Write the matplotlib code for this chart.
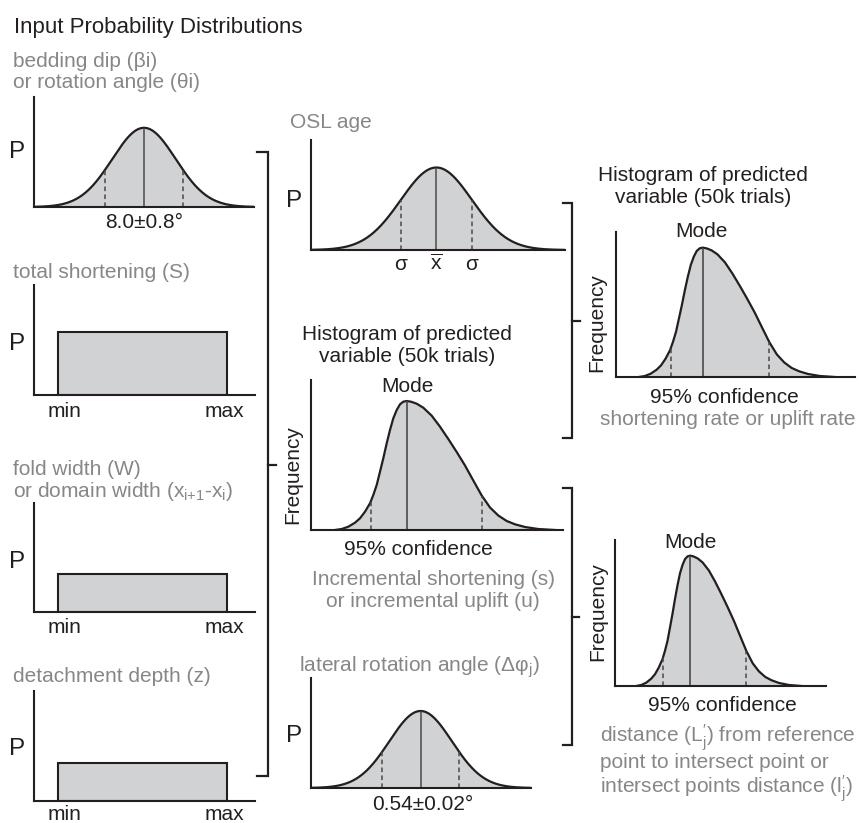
import numpy as np
import matplotlib
matplotlib.use("Agg")
import matplotlib.pyplot as plt

plt.rcParams['font.family'] = ['Liberation Sans', 'DejaVu Sans']
plt.rcParams['mathtext.fontset'] = 'custom'
plt.rcParams['mathtext.rm'] = 'Liberation Sans'
plt.rcParams['mathtext.it'] = 'Liberation Sans:italic'

# --- input distributions (normal: mean, sd shown by the dashes, drawn curve width, peak height)
dip_mean, dip_sd, dip_shape_sd, dip_peak = 8.0, 0.8, 0.65, 0.72
osl_mean, osl_sd, osl_shape_sd, osl_peak = 0.0, 1.0, 1.0, 0.75
lat_mean, lat_sd, lat_shape_sd, lat_peak = 0.54, 0.02, 0.0164, 0.70

# uniform inputs: total shortening, fold width, detachment depth
uniform_min = [0.0, 0.0, 0.0]
uniform_max = [1.0, 1.0, 1.0]
uniform_height = [0.57, 0.35, 0.35]

# outline of the simulated output histogram (arbitrary units)
hist_x = [24, 30.7, 37.3, 44, 49, 54, 59, 62.3, 65.7, 69, 72.3, 75.7, 79, 82.3, 85.7,
          89, 92.3, 95.7, 100, 105.7, 112.3, 120.7, 129, 137.3, 145.7, 154, 162.3,
          170.7, 179, 187.3, 195.7, 204, 214, 227.3, 244]
hist_y = [0, 1, 3.3, 7.3, 11.7, 18.3, 26.7, 35, 45, 58.3, 71.7, 86.7, 100, 111.7, 120,
          125.7, 128.3, 129, 128.3, 126.3, 122.3, 114.3, 103.3, 91, 78, 64.5, 49.5,
          34.5, 22.5, 14.5, 9, 5.7, 3, 1, 0]
hist_mode = 95.7
hist_ci = [60.0, 170.7]

INK = '#231f20'
GREY = '#878787'
FILL = '#d1d2d4'
MID = '#4a4a4a'

W, H = 859, 823
fig = plt.figure(figsize=(W / 100, H / 100), dpi=100)


def panel(x0, top, x1, base):
    # axes placed by its pixel box in the figure
    ax = fig.add_axes([x0 / W, 1 - base / H, (x1 - x0) / W, (base - top) / H])
    ax.set_facecolor('none')
    for s in ['top', 'right']:
        ax.spines[s].set_visible(False)
    for s in ['left', 'bottom']:
        ax.spines[s].set_linewidth(1.5)
        ax.spines[s].set_color(INK)
    ax.set_xticks([])
    ax.set_yticks([])
    return ax


def normal_panel(box, mean, sd, shape_sd, peak, xlim):
    ax = panel(*box)
    x = np.linspace(xlim[0], xlim[1], 400)
    y = peak * np.exp(-0.5 * ((x - mean) / shape_sd) ** 2)
    ax.fill_between(x, y, color=FILL, lw=0)
    ax.plot(x, y, color=INK, lw=1.6, solid_capstyle='butt')
    ax.vlines(mean, 0, peak, color=MID, lw=1.1)
    for d in (mean - sd, mean + sd):
        h = peak * np.exp(-0.5 * ((d - mean) / shape_sd) ** 2)
        ax.vlines(d, 0, h, color=MID, lw=1.1, linestyles=(0, (3, 2.2)))
    ax.set_xlim(xlim)
    ax.set_ylim(0, 1)
    return ax


def uniform_panel(box, mn, mx, h, drop):
    ax = panel(*box)
    ax.bar(mn, h, width=mx - mn, align='edge', color=FILL, edgecolor=INK, lw=1.5)
    ax.set_xlim(mn - 0.144 * (mx - mn), mn + 1.166 * (mx - mn))
    ax.set_ylim(0, 1)
    ax.annotate('min', xy=(mn, 0), xytext=(6, -drop), textcoords='offset pixels',
                ha='center', va='baseline', fontsize=15, color=INK)
    ax.annotate('max', xy=(mx, 0), xytext=(-3, -drop), textcoords='offset pixels',
                ha='center', va='baseline', fontsize=15, color=INK)
    return ax


def hist_panel(box, xlim, ylim):
    ax = panel(*box)
    ax.fill_between(hist_x, hist_y, color=FILL, lw=0)
    ax.plot(hist_x, hist_y, color=INK, lw=1.6, solid_joinstyle='round')
    ax.vlines(hist_mode, 0, np.interp(hist_mode, hist_x, hist_y), color=MID, lw=1.2)
    for c in hist_ci:
        ax.vlines(c, 0, np.interp(c, hist_x, hist_y), color=MID, lw=1.1,
                  linestyles=(0, (3, 2.2)))
    ax.set_xlim(xlim)
    ax.set_ylim(ylim)
    return ax


# left column: input distributions
ax = normal_panel((34, 97, 254, 207), dip_mean, dip_sd, dip_shape_sd, dip_peak,
                  (dip_mean - 2.82 * dip_sd, dip_mean + 2.82 * dip_sd))
ax.annotate('8.0±0.8°', xy=(dip_mean, 0), xytext=(0, -21), textcoords='offset pixels',
            ha='center', va='baseline', fontsize=15, color=INK)

uniform_boxes = [(34, 285, 255, 395), (34, 503, 255, 612), (34, 691, 255, 801)]
label_drops = [22, 21, 19]
for box, mn, mx, h, dr in zip(uniform_boxes, uniform_min, uniform_max, uniform_height,
                              label_drops):
    uniform_panel(box, mn, mx, h, dr)

# middle column
ax = normal_panel((311, 140, 565, 250), osl_mean, osl_sd, osl_shape_sd, osl_peak,
                  (osl_mean - 3.52 * osl_sd, osl_mean + 3.61 * osl_sd))
for xv, s in [(osl_mean - osl_sd, 'σ'), (osl_mean, r'$\overline{\mathrm{x}}$'),
              (osl_mean + osl_sd, 'σ')]:
    ax.annotate(s, xy=(xv, 0), xytext=(0, -20), textcoords='offset pixels',
                ha='center', va='baseline', fontsize=15, color=INK)

hist_panel((311, 380, 563, 530), (0, 252), (0, 150))

ax = normal_panel((311, 678, 531, 788), lat_mean, lat_sd, lat_shape_sd, lat_peak,
                  (lat_mean - 2.87 * lat_sd, lat_mean + 2.89 * lat_sd))
ax.annotate('0.54±0.02°', xy=(lat_mean, 0), xytext=(2, -22), textcoords='offset pixels',
            ha='center', va='baseline', fontsize=15, color=INK)

# right column
hist_panel((616, 232, 855, 377), (-1.7, 266.8), (0, 144.6))
hist_panel((615, 540, 826, 686), (-4.3, 276.6), (0, 144.5))

# overlay in pixel coordinates for titles, labels and brackets
ov = fig.add_axes([0, 0, 1, 1])
ov.set_xlim(0, W)
ov.set_ylim(H, 0)
ov.axis('off')
ov.patch.set_visible(False)


def label(x, y, s, color=INK, size=15, ha='left'):
    ov.text(x, y, s, color=color, fontsize=size, ha=ha, va='baseline')


label(14, 33, 'Input Probability Distributions', size=16)

label(13, 67, 'bedding dip (βi)', GREY)
label(13, 88, 'or rotation angle (θi)', GREY)
label(13, 278, 'total shortening (S)', GREY)
label(13, 475, 'fold width (W)', GREY)
label(13, 497, r'or domain width (x$_{\mathrm{i{+}1}}$-x$_{\mathrm{i}}$)', GREY)
label(13, 682, 'detachment depth (z)', GREY)

label(290, 128, 'OSL age', GREY)
label(407, 340, 'Histogram of predicted', ha='center')
label(407, 362, 'variable (50k trials)', ha='center')
label(407, 392, 'Mode', ha='center')
label(418, 555, '95% confidence', ha='center')
label(433, 585, 'Incremental shortening (s)', GREY, ha='center')
label(433, 607, 'or incremental uplift (u)', GREY, ha='center')
label(299, 672, r'lateral rotation angle (Δφ$_{\mathrm{j}}$)', GREY)

label(703, 181, 'Histogram of predicted', ha='center')
label(703, 203, 'variable (50k trials)', ha='center')
label(701, 237, 'Mode', ha='center')
label(724, 403, '95% confidence', ha='center')
label(728, 425, 'shortening rate or uplift rate', GREY, ha='center')

label(690, 548, 'Mode', ha='center')
label(722, 711, '95% confidence', ha='center')
label(600, 742, r'distance (L$^{\prime}_{\mathrm{j}}$) from reference', GREY)
label(600, 768, 'point to intersect point or', GREY)
label(600, 793, r'intersect points distance (l$^{\prime}_{\mathrm{j}}$)', GREY)

# "P" axis labels
for x0, yb in [(34, 158), (34, 350), (34, 568), (34, 755), (311, 207), (311, 742)]:
    ov.text(x0 - 9, yb, 'P', fontsize=17.5, color=INK, ha='right', va='baseline')

for xc, yc in [(293, 475), (597, 323), (598, 612)]:
    ov.text(xc, yc, 'Frequency', fontsize=15, color=INK, rotation=90,
            ha='center', va='center')

# brackets grouping inputs -> outputs
for bx, top, bot, end, tick_y, tick_x in [(268, 152, 776, 257, 465, 276),
                                          (572, 203, 438, 563, 321, 580),
                                          (572, 488, 745, 563, 617, 579)]:
    ov.plot([end, bx, bx, end], [top, top, bot, bot], color=INK, lw=1.6,
            solid_joinstyle='miter')
    ov.plot([bx, tick_x], [tick_y, tick_y], color=INK, lw=1.6)

fig.savefig('out.png', dpi=100)
